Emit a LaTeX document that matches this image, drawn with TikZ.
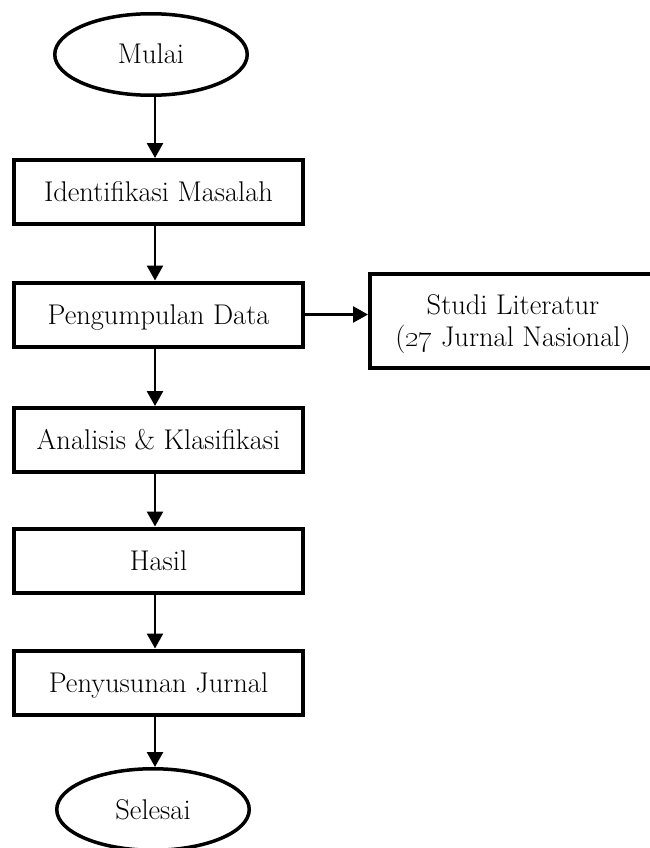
\documentclass[tikz,border=0pt]{standalone}
\usetikzlibrary{arrows.meta,shapes.geometric}
\newcommand\lnstrut{\rule[-6.5pt]{0pt}{32pt}}
\begin{document}
\begin{tikzpicture}[x=1pt,y=-1pt,
  every node/.style={font=\fontsize{28.5}{32}\selectfont},
  procbox/.style={draw, line width=4pt, rectangle, minimum width=289pt, minimum height=64pt, inner sep=0pt, align=center},
  terminal/.style={draw, line width=3.5pt, ellipse, minimum width=192.5pt, minimum height=81.5pt, inner sep=0pt},
  flowarrow/.style={line width=2.6pt, -{Triangle[width=16pt,length=15pt]}}]
\useasboundingbox (0,0) rectangle (649,848);
\node[terminal] (mulai) at (151,54.5) {\lnstrut Mulai};
\node[procbox] (ident) at (158.5,192) {\lnstrut Identifikasi Masalah};
\node[procbox] (pengum) at (158.5,314.5) {\lnstrut Pengumpulan Data};
\node[procbox, minimum width=286pt, minimum height=94pt] (studi) at (513,321) {\lnstrut Studi Literatur\\\lnstrut(\oldstylenums{27} Jurnal Nasional)};
\node[procbox] (analisis) at (158.5,440) {\lnstrut Analisis \& Klasifikasi};
\node[procbox] (hasil) at (158.5,560.5) {\lnstrut Hasil};
\node[procbox] (susun) at (158.5,682.5) {\lnstrut Penyusunan Jurnal};
\node[terminal] (selesai) at (153,809.5) {\lnstrut Selesai};
\draw[flowarrow] ([xshift=4pt]mulai.south) -- ([xshift=-3.5pt]ident.north);
\draw[flowarrow] ([xshift=-3.5pt]ident.south) -- ([xshift=-3.5pt]pengum.north);
\draw[flowarrow] ([xshift=-3.5pt]pengum.south) -- ([xshift=-3.5pt]analisis.north);
\draw[flowarrow] ([xshift=-3.5pt]analisis.south) -- ([xshift=-3.5pt]hasil.north);
\draw[flowarrow] ([xshift=-3.5pt]hasil.south) -- ([xshift=-3.5pt]susun.north);
\draw[flowarrow] ([xshift=-3.5pt]susun.south) -- ([xshift=2pt]selesai.north);
\draw[flowarrow] (pengum.east) -- (pengum.east -| studi.west);
\end{tikzpicture}
\end{document}
